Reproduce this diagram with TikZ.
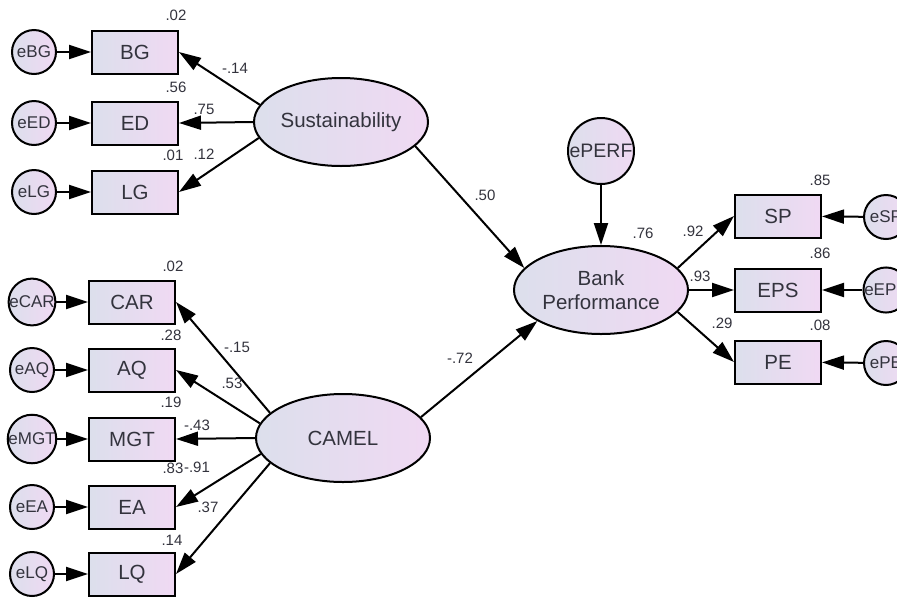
\documentclass[tikz,border=0pt]{standalone}
\usepackage{fontspec}
\setmainfont{Liberation Sans}
\usetikzlibrary{arrows.meta,shapes.geometric}
\definecolor{fillL}{HTML}{DCDFEC}
\definecolor{fillR}{HTML}{F0D9F3}
\definecolor{txt}{HTML}{33333D}
\begin{document}
\begin{tikzpicture}[x=1pt,y=-1pt,
  obs/.style={draw, line width=2pt, minimum width=86pt, minimum height=43pt, inner sep=0pt,
    left color=fillL, right color=fillR, text=txt, font=\fontsize{20.5}{20.5}\selectfont},
  err/.style={circle, draw, line width=2pt, minimum size=44pt, inner sep=0pt,
    left color=fillL, right color=fillR, text=txt, font=\fontsize{17}{17}\selectfont},
  lat/.style={ellipse, draw, line width=2pt, minimum width=174pt, minimum height=88pt, inner sep=0pt,
    left color=fillL, right color=fillR, text=txt, font=\fontsize{20.5}{24}\selectfont, align=center},
  arr/.style={line width=2pt, -{Triangle[length=22pt,width=14pt]}},
  lbl/.style={text=txt, inner sep=0pt, font=\fontsize{15}{15}\selectfont}
]
\useasboundingbox (0,0) rectangle (897,598);
\fill[white] (0,0) rectangle (897,598);

% Sustainability block
\node[err] (eBG) at (34,52) {eBG};
\node[err] (eED) at (34,123) {eED};
\node[err] (eLG) at (34,192) {eLG};
\node[obs] (BG) at (135,52) {BG};
\node[obs] (ED) at (135,123) {ED};
\node[obs] (LG) at (135,192) {LG};
\node[lat] (sus) at (341,122) {Sustainability};

% CAMEL block
\node[err] (eCAR) at (32,302) {eCAR};
\node[err] (eAQ) at (32,370) {eAQ};
\node[err] (eMGT) at (32,439) {eMGT};
\node[err] (eEA) at (32,507) {eEA};
\node[err] (eLQ) at (32,574) {eLQ};
\node[obs] (CAR) at (132,302) {CAR};
\node[obs] (AQ) at (132,370) {AQ};
\node[obs] (MGT) at (132,439) {MGT};
\node[obs] (EA) at (132,507) {EA};
\node[obs] (LQ) at (132,574) {LQ};
\node[lat] (camel) at (343,438) {CAMEL};

% Performance block
\node[lat] (bp) at (601,290) {Bank\\Performance};
\node[err, minimum size=66pt, font=\fontsize{19.5}{19.5}\selectfont] (ePERF) at (601,151) {ePERF};
\node[obs] (SP) at (778,216) {SP};
\node[obs] (EPS) at (778,290) {EPS};
\node[obs] (PE) at (778,362) {PE};
\node[err] (eSP) at (886,217) {eSP};
\node[err] (eEPS) at (886,290) {eEPS};
\node[err] (ePE) at (886,363) {ePE};

% arrows
\foreach \e/\o in {eBG/BG,eED/ED,eLG/LG,eCAR/CAR,eAQ/AQ,eMGT/MGT,eEA/EA,eLQ/LQ}
  \draw[arr] (\e) -- (\o);
\draw[arr] (sus.168) -- (BG.east);
\draw[arr] (sus.west) -- (ED.east);
\draw[arr] (sus.191) -- (LG.east);
\draw[arr] (camel.161) -- (CAR.east);
\draw[arr] (camel.170) -- (AQ.east);
\draw[arr] (camel.west) -- (MGT.east);
\draw[arr] (camel.191) -- (EA.east);
\draw[arr] (camel.199) -- (LQ.east);
\draw[arr] (sus.-18) -- (bp.164);
\draw[arr] (camel.15) -- (bp.206);
\draw[arr] (ePERF) -- (bp);
\draw[arr] (bp.16) -- (SP.west);
\draw[arr] (bp.east) -- (EPS.west);
\draw[arr] (bp.-16) -- (PE.west);
\foreach \e/\o in {eSP/SP,eEPS/EPS,ePE/PE}
  \draw[arr] (\e) -- (\o);

% labels
\node[lbl] (l1) at (176,15) {.02};
\node[lbl] (l2) at (235,68) {-.14};
\node[lbl] (l3) at (176,87) {.56};
\node[lbl] (l4) at (204,109) {.75};
\node[lbl] (l5) at (173,155) {.01};
\node[lbl] (l6) at (204,154) {.12};
\node[lbl] (l7) at (173,266) {.02};
\node[lbl] (l8) at (237,347) {-.15};
\node[lbl] (l9) at (171,335) {.28};
\node[lbl] (l10) at (232,383) {.53};
\node[lbl] (l11) at (171,402) {.19};
\node[lbl] (l12) at (197,425) {-.43};
\node[lbl] (l13) at (173,468) {.83};
\node[lbl] (l14) at (197,467) {-.91};
\node[lbl] (l15) at (208,507) {.37};
\node[lbl] (l16) at (172,540) {.14};
\node[lbl] (l17) at (485,195) {.50};
\node[lbl] (l18) at (460,358) {-.72};
\node[lbl] (l19) at (643,233) {.76};
\node[lbl] (l20) at (693,231) {.92};
\node[lbl] (l21) at (700,276) {.93};
\node[lbl] (l22) at (722,323) {.29};
\node[lbl] (l23) at (820,180) {.85};
\node[lbl] (l24) at (820,253) {.86};
\node[lbl] (l25) at (820,325) {.08};
\end{tikzpicture}
\end{document}
